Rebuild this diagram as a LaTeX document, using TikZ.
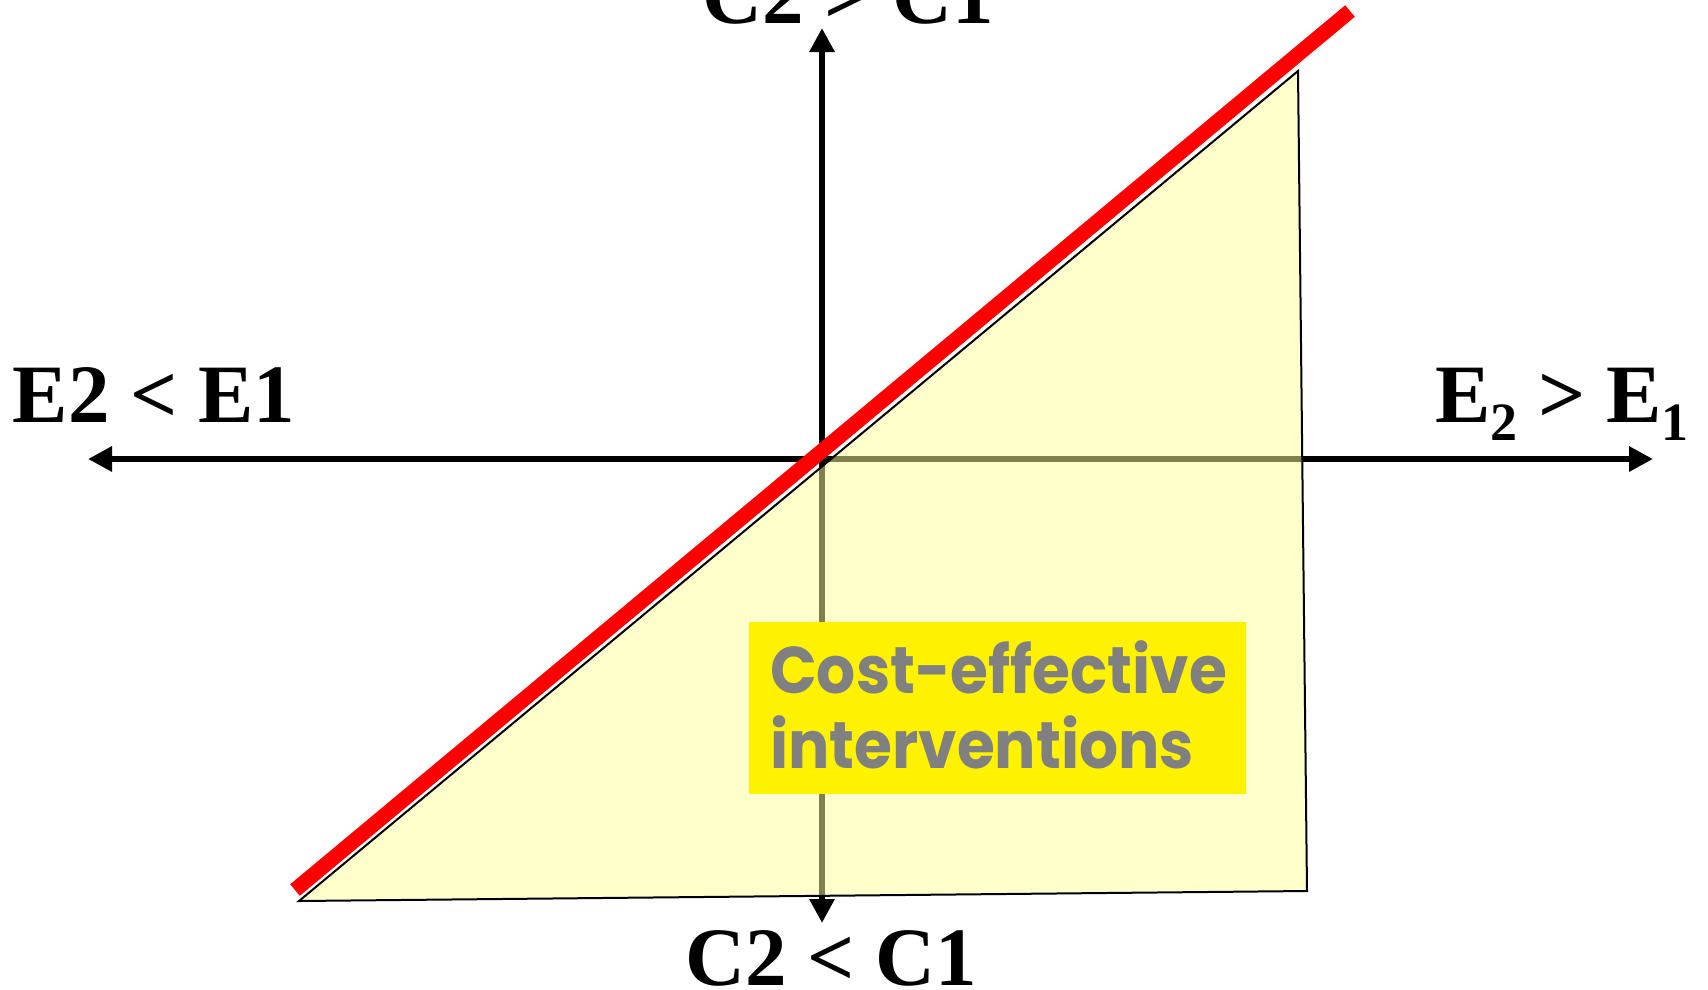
\documentclass[tikz,border=0pt]{standalone}
\usepackage{fontspec}
\setmainfont{Liberation Serif}
\newfontfamily\comicfont{Poppins}[FakeStretch=0.93]
\usetikzlibrary{arrows.meta}
\definecolor{polyfill}{HTML}{FFFF99}
\definecolor{cegray}{HTML}{808080}
\definecolor{redline}{HTML}{FF0000}
\begin{document}
\begin{tikzpicture}[x=1pt,y=-1pt,
  axisline/.style={line width=6.5pt,-{Triangle[length=24pt,width=24pt]}},
  lbl/.style={font=\fontsize{83}{90}\selectfont\bfseries, inner sep=0pt, anchor=base},
  cetext/.style={font=\fontsize{66}{70}\selectfont\comicfont\bfseries, text=cegray, inner sep=0pt, anchor=base west}]
\useasboundingbox (0,0) rectangle (1708,989);
\clip (0,0) rectangle (1708,989);
% axes
\coordinate (o) at (822,459);
\coordinate (xl) at (88,459);
\coordinate (xr) at (1653,459);
\coordinate (yt) at (822,28);
\coordinate (yb) at (822,923);
\draw[axisline] (o) -- (xl);
\draw[axisline] (o) -- (xr);
\draw[axisline] (o) -- (yt);
\draw[axisline] (o) -- (yb);
% polygon
\coordinate (pa) at (299,901);
\coordinate (pb) at (1298,71);
\coordinate (pc) at (1307,891);
\fill[polyfill, fill opacity=0.5] (pa) -- (pb) -- (pc) -- cycle;
\draw[line width=2pt, line join=miter] (pa) -- (pb) -- (pc) -- cycle;
% red line
\coordinate (ra) at (295,890);
\coordinate (rb) at (1350,11);
\draw[redline, line width=15pt] (ra) -- (rb);
% labels
\node[lbl] (ltop) at (848,23) {C2 > C1};
\node[lbl] (lbot) at (831,985) {C2 < C1};
\node[lbl] (lleft) at (154,422) {E2 < E1};
\node[lbl] (lright) at (1562,422) {E\raisebox{-18pt}{\fontsize{54}{54}\selectfont 2} > E\raisebox{-18pt}{\fontsize{54}{54}\selectfont 1}};
% box
\node[fill=yellow, minimum width=497pt, minimum height=172pt, anchor=north west, inner sep=0pt] (cebox) at (749,622) {};
\node[cetext] (ce1) at (770,693) {Cost-effective};
\node[cetext] (ce2) at (770,768) {interventions};
\end{tikzpicture}
\end{document}
